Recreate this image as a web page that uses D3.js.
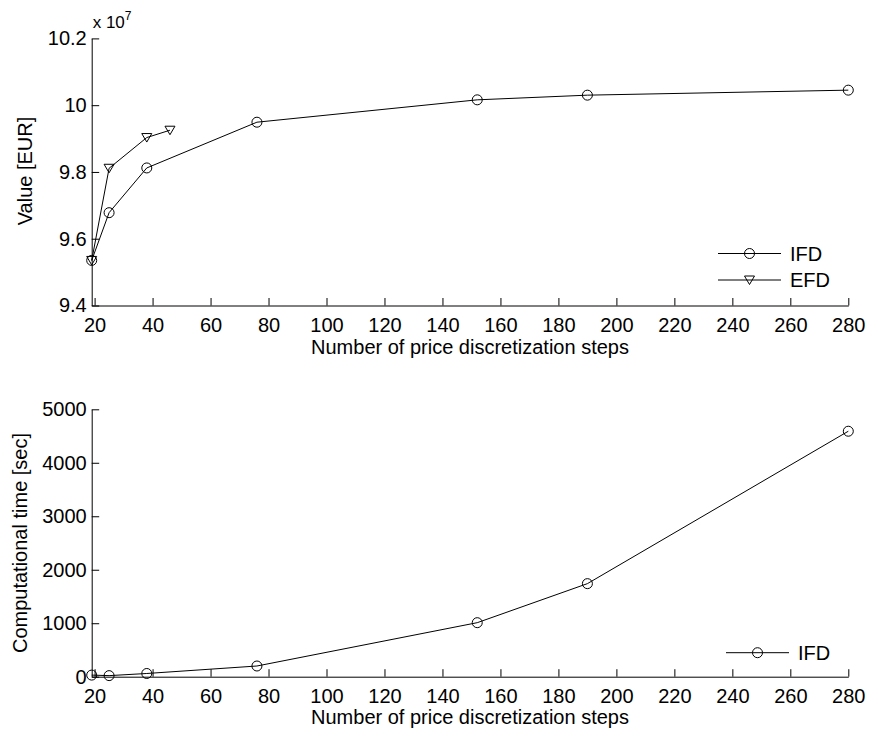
<!DOCTYPE html>
<html>
<head>
<meta charset="utf-8">
<script src="https://cdn.jsdelivr.net/npm/d3@7/dist/d3.min.js"></script>
<style>
  html, body { margin: 0; padding: 0; background: #fff; }
  svg { display: block; }
  text { font-family: "Liberation Sans", Arial, Helvetica, sans-serif; fill: #000; }
</style>
</head>
<body>
<svg id="chart" width="870" height="735"></svg>
<script>
// ---- data ----
const stepsIFD = [19, 25, 38, 76, 152, 190, 280];
const valueIFD = [9.535e7, 9.678e7, 9.812e7, 9.949e7, 10.016e7, 10.030e7, 10.045e7];
const stepsEFD = [19, 25, 38, 46];
const valueEFD = [9.535e7, 9.811e7, 9.903e7, 9.925e7];
const timeIFD = [30, 20, 60, 200, 1010, 1740, 4590];

const xTicks = [20, 40, 60, 80, 100, 120, 140, 160, 180, 200, 220, 240, 260, 280];
const valueTicks = [9.4e7, 9.6e7, 9.8e7, 10.0e7, 10.2e7];
const timeTicks = [0, 1000, 2000, 3000, 4000, 5000];
const xLabel = "Number of price discretization steps";
const valueLabel = "Value [EUR]";
const timeLabel = "Computational time [sec]";

// ---- layout ----
const svg = d3.select("#chart");
const L = 91.7, R = 848.3;
const FS = 20;
const top1 = 38.4, bot1 = 305.5;
const top2 = 409.3, bot2 = 676.7;

const x1 = d3.scaleLinear().domain([19, 280]).range([L, R]);
const y1 = d3.scaleLinear().domain([9.4e7, 10.2e7]).range([bot1, top1]);
const x2 = d3.scaleLinear().domain([19, 280]).range([L, R]);
const y2 = d3.scaleLinear().domain([0, 5000]).range([bot2, top2]);

function styleAxis(g) {
  g.selectAll("path.domain").attr("stroke", "#000").attr("stroke-width", 1);
  g.selectAll(".tick line").attr("stroke", "#000").attr("stroke-width", 1);
  g.selectAll("text").attr("font-size", FS).attr("fill", "#000")
    .attr("font-family", '"Liberation Sans", Arial, Helvetica, sans-serif');
}

function drawAxes(x, y, yTicks, yFmt, bot) {
  const gx = svg.append("g").attr("transform", `translate(0,${bot})`)
    .call(d3.axisBottom(x).tickValues(xTicks).tickSize(-7.5).tickSizeOuter(0).tickPadding(12)
      .tickFormat(d3.format("d")));
  styleAxis(gx);
  const gy = svg.append("g").attr("transform", `translate(${L},0)`)
    .call(d3.axisLeft(y).tickValues(yTicks).tickSize(-7.5).tickSizeOuter(0).tickPadding(5)
      .tickFormat(yFmt));
  styleAxis(gy);
}

drawAxes(x1, y1, valueTicks, d => d3.format("~g")(+(d / 1e7).toFixed(2)), bot1);
drawAxes(x2, y2, timeTicks, d3.format("d"), bot2);

// exponent label
const ex = svg.append("text").attr("x", L + 1).attr("y", 28).attr("font-size", 17);
ex.append("tspan").text("x 10");
ex.append("tspan").attr("font-size", 12).attr("dy", -8).text("7");

// axis titles
svg.append("text").attr("x", (L + R) / 2).attr("y", 354).attr("text-anchor", "middle")
  .attr("font-size", FS).text(xLabel);
svg.append("text").attr("x", (L + R) / 2).attr("y", 724).attr("text-anchor", "middle")
  .attr("font-size", FS).text(xLabel);
svg.append("text").attr("transform", "translate(32,171) rotate(-90)").attr("text-anchor", "middle")
  .attr("font-size", FS).text(valueLabel);
svg.append("text").attr("transform", "translate(27,543) rotate(-90)").attr("text-anchor", "middle")
  .attr("font-size", FS).text(timeLabel);

// markers
const triPath = "M-5,-4 L5,-4 L0,4.5 Z";
function circleMarker(g, cx, cy) {
  g.append("circle").attr("cx", cx).attr("cy", cy).attr("r", 5)
    .attr("fill", "none").attr("stroke", "#000").attr("stroke-width", 1);
}
function triMarker(g, cx, cy) {
  g.append("path").attr("d", triPath).attr("transform", `translate(${cx},${cy})`)
    .attr("fill", "none").attr("stroke", "#000").attr("stroke-width", 1);
}

function series(x, y, xs, ys, marker) {
  const pts = xs.map((v, i) => [v, ys[i]]);
  const line = d3.line().x(d => x(d[0])).y(d => y(d[1]));
  svg.append("path").attr("d", line(pts)).attr("fill", "none")
    .attr("stroke", "#000").attr("stroke-width", 1);
  const g = svg.append("g");
  pts.forEach(d => marker(g, x(d[0]), y(d[1])));
}

series(x1, y1, stepsIFD, valueIFD, circleMarker);
series(x1, y1, stepsEFD, valueEFD, triMarker);
series(x2, y2, stepsIFD, timeIFD, circleMarker);

// legends
function legendItem(lx, ly, label, marker) {
  svg.append("line").attr("x1", lx).attr("x2", lx + 63).attr("y1", ly).attr("y2", ly)
    .attr("stroke", "#000").attr("stroke-width", 1);
  const g = svg.append("g");
  marker(g, lx + 31.5, ly);
  svg.append("text").attr("x", lx + 72).attr("y", ly).attr("dy", "0.36em")
    .attr("font-size", FS).text(label);
}
legendItem(718, 253.5, "IFD", circleMarker);
legendItem(718, 280, "EFD", triMarker);
legendItem(726, 652.7, "IFD", circleMarker);
</script>
</body>
</html>
